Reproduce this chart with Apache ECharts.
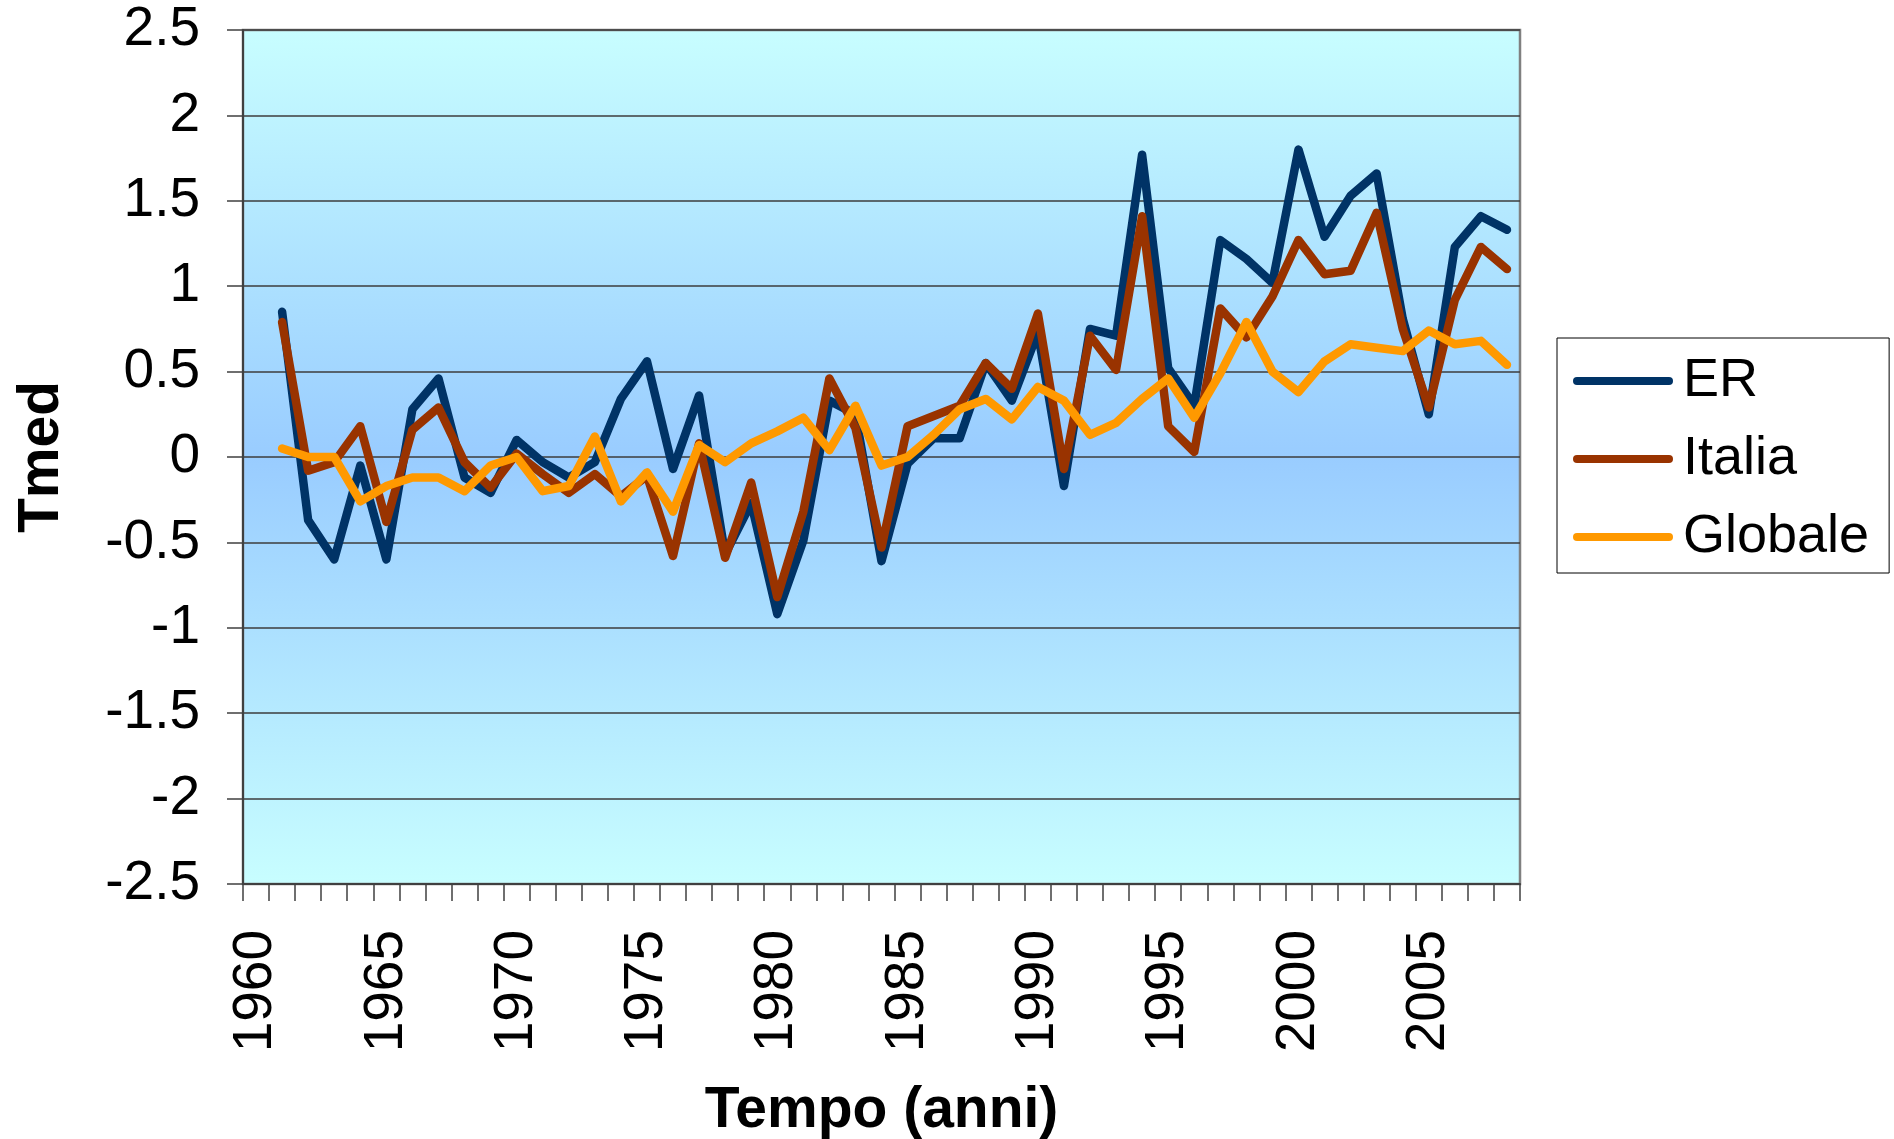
<!DOCTYPE html>
<html>
<head>
<meta charset="utf-8">
<title>Tmed</title>
<script src="https://cdn.jsdelivr.net/npm/echarts@6/dist/echarts.min.js"></script>
<style>
  html, body { margin: 0; padding: 0; background: #fff; }
  #chart { width: 1894px; height: 1139px; }
</style>
</head>
<body>
<div id="chart"></div>
<script>
// Years on the category axis (1960 has no data)
const years = [];
for (let y = 1960; y <= 2008; y++) years.push(String(y));

// Temperature anomalies, 1960..2008
const er = [null,
  0.85, -0.37, -0.60, -0.05, -0.60, 0.28, 0.46, -0.12, -0.21, 0.10,
  -0.03, -0.12, -0.03, 0.34, 0.56, -0.07, 0.36, -0.57, -0.27, -0.92,
  -0.49, 0.33, 0.25, -0.61, -0.04, 0.11, 0.11, 0.55, 0.33, 0.73,
  -0.17, 0.75, 0.71, 1.77, 0.52, 0.30, 1.27, 1.16, 1.02, 1.80,
  1.29, 1.53, 1.66, 0.81, 0.25, 1.23, 1.41, 1.33];

const italia = [null,
  0.79, -0.08, -0.03, 0.18, -0.38, 0.16, 0.29, -0.03, -0.18, 0.02,
  -0.10, -0.21, -0.10, -0.23, -0.11, -0.58, 0.08, -0.59, -0.15, -0.82,
  -0.32, 0.46, 0.17, -0.53, 0.18, 0.24, 0.30, 0.55, 0.40, 0.84,
  -0.07, 0.71, 0.51, 1.41, 0.18, 0.03, 0.87, 0.70, 0.94, 1.27,
  1.07, 1.09, 1.43, 0.75, 0.29, 0.92, 1.23, 1.10];

const globale = [null,
  0.05, 0.00, 0.00, -0.26, -0.17, -0.12, -0.12, -0.20, -0.05, 0.00,
  -0.20, -0.17, 0.12, -0.26, -0.09, -0.32, 0.07, -0.03, 0.08, 0.15,
  0.23, 0.04, 0.30, -0.05, 0.00, 0.13, 0.28, 0.34, 0.22, 0.41,
  0.33, 0.13, 0.20, 0.34, 0.46, 0.23, 0.49, 0.79, 0.50, 0.38,
  0.56, 0.66, 0.64, 0.62, 0.74, 0.66, 0.68, 0.54];

const seriesNames = ['ER', 'Italia', 'Globale'];
const seriesColors = ['#003366', '#993300', '#FF9900'];
const seriesData = [er, italia, globale];

const FONT = '"Liberation Sans", Arial, Helvetica, sans-serif';
const AXIS_DARK = '#404040';

const chart = echarts.init(document.getElementById('chart'), null, { renderer: 'canvas' });

chart.setOption({
  animation: false,
  backgroundColor: '#ffffff',
  textStyle: { fontFamily: FONT },
  grid: {
    left: 243, top: 30, right: 374, bottom: 255,
    outerBoundsMode: 'none',
    containLabel: false,
    show: true,
    borderColor: '#808080',
    borderWidth: 2.5,
    backgroundColor: {
      type: 'linear', x: 0, y: 0, x2: 0, y2: 1,
      colorStops: [
        { offset: 0, color: '#C8FEFF' },
        { offset: 0.5, color: '#99CCFF' },
        { offset: 1, color: '#C8FEFF' }
      ]
    }
  },
  legend: {
    orient: 'vertical',
    left: 1557, top: 338,
    padding: [13, 20, 6, 16],
    itemGap: 18,
    itemWidth: 100,
    itemHeight: 8,
    backgroundColor: '#ffffff',
    borderColor: '#000000',
    borderWidth: 1,
    icon: 'path://M4,0 H96 A4,4 0 0 1 96,8 H4 A4,4 0 0 1 4,0 Z',
    textStyle: {
      fontFamily: FONT, fontSize: 54, color: '#000', lineHeight: 60,
      padding: [0, 0, 0, 5]
    },
    data: seriesNames
  },
  xAxis: {
    type: 'category',
    data: years,
    boundaryGap: true,
    name: 'Tempo (anni)',
    nameLocation: 'middle',
    nameGap: 199,
    nameTextStyle: { fontFamily: FONT, fontSize: 57, fontWeight: 'bold', color: '#000' },
    axisLine: { show: true, onZero: false, lineStyle: { color: AXIS_DARK, width: 2 } },
    axisTick: { show: true, interval: 0, length: 17, lineStyle: { color: AXIS_DARK, width: 1.5 } },
    axisLabel: {
      interval: 4, rotate: 90, margin: 46,
      fontFamily: FONT, fontSize: 55, color: '#000'
    },
    splitLine: { show: false }
  },
  yAxis: {
    type: 'value',
    min: -2.5, max: 2.5, interval: 0.5,
    name: 'Tmed',
    nameLocation: 'middle',
    nameGap: 172,
    nameTextStyle: { fontFamily: FONT, fontSize: 57, fontWeight: 'bold', color: '#000' },
    axisLine: { show: true, onZero: false, lineStyle: { color: AXIS_DARK, width: 2 } },
    axisTick: { show: true, length: 16, lineStyle: { color: AXIS_DARK, width: 1.5 } },
    axisLabel: { margin: 43, fontFamily: FONT, fontSize: 55, color: '#000' },
    splitLine: { show: true, lineStyle: { color: '#3C3C3C', width: 1.5 } }
  },
  series: seriesNames.map((name, i) => ({
    name: name,
    type: 'line',
    data: seriesData[i],
    symbol: 'none',
    connectNulls: false,
    color: seriesColors[i],
    lineStyle: { color: seriesColors[i], width: 8.5, cap: 'round', join: 'round' },
    z: 2 + i
  }))
});
</script>
</body>
</html>
